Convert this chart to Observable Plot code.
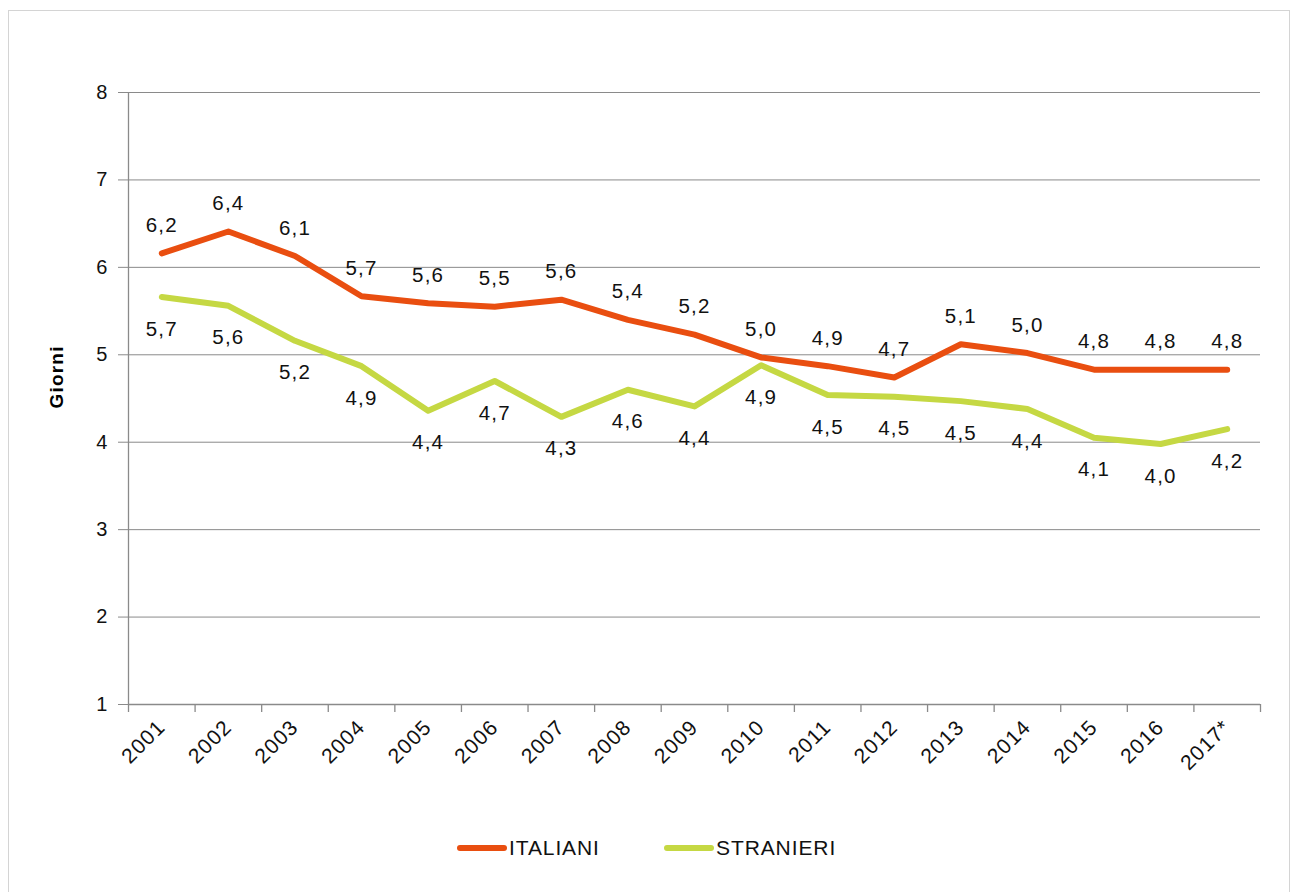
<!DOCTYPE html>
<html>
<head>
<meta charset="utf-8">
<script src="https://cdn.jsdelivr.net/npm/d3@7"></script>
<script src="https://cdn.jsdelivr.net/npm/@observablehq/plot@0.6"></script>
<style>
  html, body { margin: 0; padding: 0; background: #fff; }
  body { width: 1299px; height: 892px; position: relative; overflow: hidden; font-family: "Liberation Sans", Arial, sans-serif; }
  #frame { position: absolute; left: 8px; top: 10px; width: 1282px; height: 900px; border: 1px solid #d4d4d4; box-sizing: border-box; }
  #chart { position: absolute; left: 0; top: 0; }
  #chart svg text { letter-spacing: 1.2px; }
  #chart svg g[aria-label^="x-axis"] text { font-size: 21px; }
  #legend { position: absolute; left: 0; top: 834px; width: 1299px; height: 28px; }
  .item { position: absolute; top: 0; height: 28px; display: flex; align-items: center; font-size: 21px; letter-spacing: 0.9px; color: #111; }
  .sw { display: inline-block; width: 50px; height: 6px; border-radius: 3px; margin-right: 2px; }
</style>
</head>
<body>
<div id="frame"></div>
<div id="chart"></div>
<div id="legend"></div>
<script>
const years = ["2001","2002","2003","2004","2005","2006","2007","2008","2009","2010","2011","2012","2013","2014","2015","2016","2017*"];
const italiani = [6.16, 6.41, 6.13, 5.67, 5.59, 5.55, 5.63, 5.40, 5.23, 4.97, 4.87, 4.74, 5.12, 5.02, 4.83, 4.83, 4.83];
const stranieri = [5.66, 5.56, 5.16, 4.87, 4.36, 4.70, 4.29, 4.60, 4.41, 4.88, 4.54, 4.52, 4.47, 4.38, 4.05, 3.98, 4.15];
const italianiLabels = ["6,2","6,4","6,1","5,7","5,6","5,5","5,6","5,4","5,2","5,0","4,9","4,7","5,1","5,0","4,8","4,8","4,8"];
const stranieriLabels = ["5,7","5,6","5,2","4,9","4,4","4,7","4,3","4,6","4,4","4,9","4,5","4,5","4,5","4,4","4,1","4,0","4,2"];
const yTicks = [1, 2, 3, 4, 5, 6, 7, 8];
const seriesNames = ["ITALIANI", "STRANIERI"];
const colors = ["#e94e10", "#c5d843"];

const W = 1299, H = 800, mL = 128, mR = 39, mT = 92, mB = 96;
const half = (W - mL - mR) / years.length / 2;

const itData = years.map((y, i) => ({year: y, value: italiani[i], label: italianiLabels[i]}));
const stData = years.map((y, i) => ({year: y, value: stranieri[i], label: stranieriLabels[i]}));

const font = "Liberation Sans, Arial, sans-serif";
const chart = Plot.plot({
  width: W, height: H,
  marginLeft: mL, marginRight: mR, marginTop: mT, marginBottom: mB,
  style: {fontFamily: font, fontSize: "20px", color: "#111", background: "transparent"},
  x: {type: "point", domain: years, padding: 0.5, round: false, label: null, tickSize: 0, tickRotate: -45, tickPadding: 19},
  y: {domain: [1, 8], ticks: yTicks, label: null, tickSize: 10, tickPadding: 10, tickFormat: d3.format("d")},
  marks: [
    Plot.ruleY(yTicks.slice(1), {stroke: "#8a8a8a", strokeWidth: 1, strokeOpacity: 1}),
    Plot.ruleY([1], {stroke: "#8a8a8a", strokeWidth: 1.3}),
    Plot.ruleX([years[0]], {y1: 1, y2: 8, dx: -half, stroke: "#8a8a8a", strokeWidth: 1.3}),
    Plot.ruleX(years, {y1: 1, y2: 1, dx: -half, insetBottom: -8, stroke: "#8a8a8a", strokeWidth: 1.3}),
    Plot.ruleX([years[years.length - 1]], {y1: 1, y2: 1, dx: half, insetBottom: -8, stroke: "#8a8a8a", strokeWidth: 1.3}),
    Plot.line(itData, {x: "year", y: "value", stroke: colors[0], strokeWidth: 6, strokeLinecap: "round", strokeLinejoin: "round"}),
    Plot.line(stData, {x: "year", y: "value", stroke: colors[1], strokeWidth: 6, strokeLinecap: "round", strokeLinejoin: "round"}),
    Plot.text(itData, {x: "year", y: "value", text: "label", dy: -28, fontSize: 20.5, fill: "#111"}),
    Plot.text(stData, {x: "year", y: "value", text: "label", dy: 32, fontSize: 20.5, fill: "#111"}),
    Plot.text(["Giorni"], {frameAnchor: "left", dx: -72, dy: 10, rotate: -90, text: d => d, fontWeight: "bold", fontSize: 19, fill: "#000"})
  ]
});
chart.querySelectorAll("[aria-label='y-axis'] path, [aria-label='y-axis tick']").forEach(p => p.setAttribute("stroke", "#8a8a8a"));
document.getElementById("chart").appendChild(chart);

const legend = document.getElementById("legend");
const lefts = [457, 664];
seriesNames.forEach((name, i) => {
  const it = document.createElement("div");
  it.className = "item";
  it.style.left = lefts[i] + "px";
  const sw = document.createElement("span");
  sw.className = "sw";
  sw.style.background = colors[i];
  const tx = document.createElement("span");
  tx.textContent = name;
  it.appendChild(sw); it.appendChild(tx);
  legend.appendChild(it);
});
</script>
</body>
</html>
